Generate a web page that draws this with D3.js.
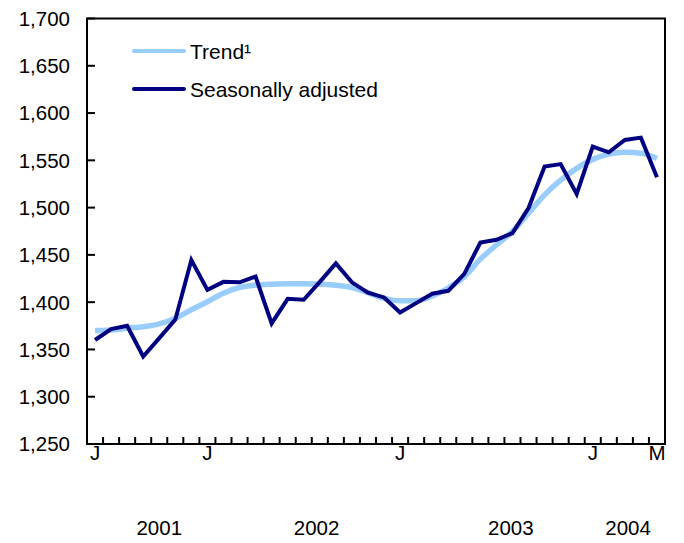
<!DOCTYPE html>
<html>
<head>
<meta charset="utf-8">
<script src="https://d3js.org/d3.v7.min.js"></script>
<style>
  body { margin: 0; background: #fff; }
  text { font-family: "Liberation Sans", Arial, sans-serif; fill: #000; }
</style>
</head>
<body>
<script>
// June 2001 to May 2004, one value per month
var months = ["J","J","A","S","O","N","D",
              "J","F","M","A","M","J","J","A","S","O","N","D",
              "J","F","M","A","M","J","J","A","S","O","N","D",
              "J","F","M","A","M"];
var shownMonths = [0, 7, 19, 31, 35];

var trend = [1370, 1370.5, 1372.5, 1374, 1377, 1383, 1392, 1400.5,
             1409.5, 1415.5, 1418, 1419, 1419.5, 1419.5, 1419, 1418, 1415.5, 1410, 1404,
             1401.5, 1401.5, 1406.5, 1415, 1427, 1445.5, 1460.5, 1475, 1494, 1513.5, 1529, 1541.5,
             1551, 1556.5, 1558.5, 1557.5, 1552];

var seasAdj = [1360, 1371.5, 1375, 1342.5, 1362, 1381.5, 1444.5,
               1413, 1421.5, 1421, 1427, 1377.5, 1403.5, 1402.5, 1421.5, 1441, 1421, 1410, 1405,
               1389, 1399, 1409, 1412, 1430, 1463, 1466, 1473, 1499.5, 1543.5, 1546, 1514.5,
               1564.5, 1558.5, 1571.5, 1574, 1532];

var years = ["2001", "2002", "2003", "2004"];
var yearAt = [4, 13.8, 25.9, 33.2];   // month index under each year label

var yTicks = [1250, 1300, 1350, 1400, 1450, 1500, 1550, 1600, 1650, 1700];

var width = 684, height = 543;
var plotLeft = 87, plotRight = 665, plotTop = 18.5, plotBottom = 444;

var svg = d3.select("body").append("svg")
  .attr("width", width)
  .attr("height", height);

var x = d3.scaleBand()
  .domain(d3.range(months.length))
  .range([plotLeft, plotRight])
  .padding(0);

var y = d3.scaleLinear()
  .domain([1250, 1700])
  .range([plotBottom, plotTop]);

function cx(i) { return x(i) + x.bandwidth() / 2; }

// frame
svg.append("rect")
  .attr("x", plotLeft).attr("y", plotTop)
  .attr("width", plotRight - plotLeft).attr("height", plotBottom - plotTop)
  .attr("fill", "none")
  .attr("stroke", "#000")
  .attr("stroke-width", 2);

// y axis ticks, pointing inward
svg.selectAll(".ytick")
  .data(yTicks)
  .enter().append("line")
  .attr("x1", plotLeft).attr("x2", plotLeft + 8)
  .attr("y1", function(d) { return y(d); })
  .attr("y2", function(d) { return y(d); })
  .attr("stroke", "#000")
  .attr("stroke-width", 2);

svg.selectAll(".ylab")
  .data(yTicks)
  .enter().append("text")
  .attr("x", 70)
  .attr("y", function(d) { return y(d); })
  .attr("dy", "0.36em")
  .attr("text-anchor", "end")
  .style("font-size", "20.5px")
  .text(function(d) { return d3.format(",")(d); });

// x ticks at month boundaries
svg.selectAll(".xtick")
  .data(d3.range(1, months.length))
  .enter().append("line")
  .attr("x1", function(d) { return x(d); })
  .attr("x2", function(d) { return x(d); })
  .attr("y1", plotBottom).attr("y2", plotBottom - 7)
  .attr("stroke", "#000")
  .attr("stroke-width", 2);

svg.selectAll(".xlab")
  .data(shownMonths)
  .enter().append("text")
  .attr("x", function(d) { return cx(d); })
  .attr("y", 460)
  .attr("text-anchor", "middle")
  .style("font-size", "20.5px")
  .text(function(d) { return months[d]; });

svg.selectAll(".yearlab")
  .data(years)
  .enter().append("text")
  .attr("x", function(d, i) { return x(0) + x.bandwidth() * (yearAt[i] + 0.5); })
  .attr("y", 535)
  .attr("text-anchor", "middle")
  .style("font-size", "20.5px")
  .text(function(d) { return d; });

var line = d3.line()
  .x(function(d, i) { return cx(i); })
  .y(function(d) { return y(d); });

var smooth = d3.line()
  .x(function(d, i) { return cx(i); })
  .y(function(d) { return y(d); })
  .curve(d3.curveMonotoneX);

svg.append("path")
  .datum(trend)
  .attr("d", smooth)
  .attr("fill", "none")
  .attr("stroke", "#99ccff")
  .attr("stroke-width", 5.5);

svg.append("path")
  .datum(seasAdj)
  .attr("d", line)
  .attr("fill", "none")
  .attr("stroke", "#000080")
  .attr("stroke-width", 4)
  .attr("stroke-linejoin", "miter");

// legend
var legend = [
  { name: "Trend\u00b9", color: "#99ccff" },
  { name: "Seasonally adjusted", color: "#000080" }
];

var lg = svg.selectAll(".legend")
  .data(legend)
  .enter().append("g")
  .attr("transform", function(d, i) { return "translate(134," + (51 + i * 38) + ")"; });

lg.append("line")
  .attr("x1", 0).attr("x2", 50)
  .attr("stroke", function(d) { return d.color; })
  .attr("stroke-width", 4)
  .attr("stroke-linecap", "round");

lg.append("text")
  .attr("x", 56)
  .attr("dy", "0.36em")
  .style("font-size", "21px")
  .text(function(d) { return d.name; });
</script>
</body>
</html>
